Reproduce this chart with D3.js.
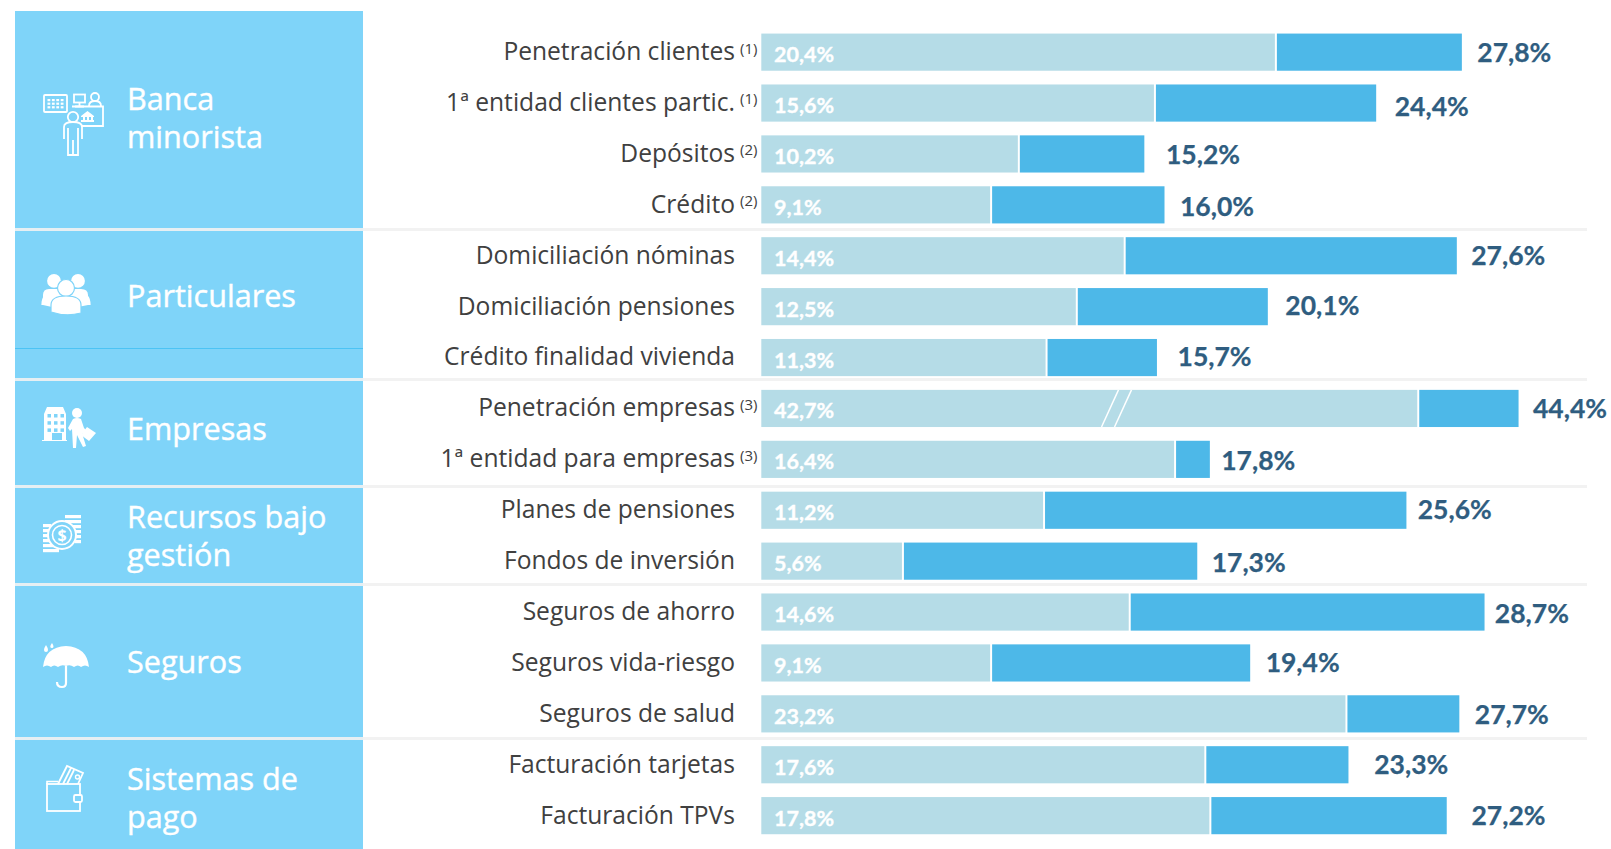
<!DOCTYPE html>
<html>
<head>
<meta charset="utf-8">
<script src="https://cdn.jsdelivr.net/npm/d3@7/dist/d3.min.js"></script>
<style>
html, body { margin: 0; padding: 0; background: #fff; }
svg { display: block; }
.row-label text { font-family: "Open Sans", sans-serif; font-size: 24.6px; fill: #404040; }
.note { font-family: "Open Sans", sans-serif; font-size: 15px; fill: #404040; }
.inner { font-family: Lato, sans-serif; font-weight: 700; font-size: 21.5px; fill: #fff; stroke: #fff; stroke-width: 0.35px; }
.outer { font-family: Lato, sans-serif; font-weight: 700; font-size: 26.5px; fill: #2f5d80; stroke: #2f5d80; stroke-width: 0.25px; }
.group { font-family: "Open Sans", sans-serif; font-weight: 500; font-size: 30.6px; fill: #fff; stroke: #fff; stroke-width: 0.4px; }
</style>
</head>
<body>
<script>
var categories = ['Penetración clientes', '1ª entidad clientes partic.', 'Depósitos', 'Crédito',
    'Domiciliación nóminas', 'Domiciliación pensiones', 'Crédito finalidad vivienda',
    'Penetración empresas', '1ª entidad para empresas',
    'Planes de pensiones', 'Fondos de inversión',
    'Seguros de ahorro', 'Seguros vida-riesgo', 'Seguros de salud',
    'Facturación tarjetas', 'Facturación TPVs'];
var notes = ['(1)', '(1)', '(2)', '(2)', '', '', '', '(3)', '(3)', '', '', '', '', '', '', ''];
var before = [20.4, 15.6, 10.2, 9.1, 14.4, 12.5, 11.3, 42.7, 16.4, 11.2, 5.6, 14.6, 9.1, 23.2, 17.6, 17.8];
var after = [27.8, 24.4, 15.2, 16.0, 27.6, 20.1, 15.7, 44.4, 17.8, 25.6, 17.3, 28.7, 19.4, 27.7, 23.3, 27.2];
// the empresas bar is cut in the original, so it is drawn at these lengths
var brokenRow = 'Penetración empresas';
var brokenBefore = 26.05;
var brokenAfter = 30.05;
var groupNames = [['Banca', 'minorista'], ['Particulares'], ['Empresas'], ['Recursos bajo', 'gestión'], ['Seguros'], ['Sistemas de', 'pago']];

// layout, not data
var panelEdges = [11, 228, 378, 485, 583, 737, 849];
var valueGaps = [15, 18, 21, 15, 14, 17, 20, 14, 11, 11, 14, 10, 15, 15, 25, 24];
var valueDrops = [1, 4, 2, 3, 1, 0, 0, 1, 2, 0, 2, 2, 1, 2, 1, 1];

var width = 1611, height = 849;
var fmt = function (v) { return v.toFixed(1).replace('.', ',') + '%'; };

var svg = d3.select('body').append('svg').attr('width', width).attr('height', height);

var x = d3.scaleLinear().domain([0, 10]).range([761.3, 1013.3]);
var y = d3.scaleBand().domain(categories).range([26.7, 841.1]).paddingInner(0.27).paddingOuter(0.135);

// left panels
var panels = svg.append('g');
panelEdges.slice(0, -1).forEach(function (top, i) {
    var bottom = panelEdges[i + 1];
    panels.append('rect').attr('x', 15).attr('y', top + (i ? 3 : 0))
        .attr('width', 348).attr('height', bottom - top - (i ? 3 : 0)).attr('fill', '#7fd4f9');
    if (i) {
        panels.append('rect').attr('x', 15).attr('y', top).attr('width', 348).attr('height', 3).attr('fill', '#e6eff3');
        panels.append('rect').attr('x', 363).attr('y', top).attr('width', 1224).attr('height', 3).attr('fill', '#f2f2f2');
    }
});
panels.append('rect').attr('x', 15).attr('y', 348).attr('width', 348).attr('height', 1).attr('fill', '#4cc3f5');

var groupCenters = [118, 296, 429, 536, 662, 798];
groupNames.forEach(function (lines, i) {
    lines.forEach(function (line, j) {
        svg.append('text').attr('class', 'group')
            .attr('x', 127)
            .attr('y', groupCenters[i] + 11 + (j - (lines.length - 1) / 2) * 38)
            .text(line);
    });
});

// row labels
var axis = svg.append('g').attr('class', 'row-label')
    .attr('transform', 'translate(735,0)')
    .call(d3.axisLeft(y).tickSize(0).tickPadding(0));
axis.select('.domain').remove();

svg.selectAll('text.note').data(categories.filter(function (c, i) { return notes[i]; }))
    .enter().append('text').attr('class', 'note')
    .attr('x', 740)
    .attr('y', function (c) { return y(c) + 20; })
    .text(function (c) { return notes[categories.indexOf(c)]; });

// bars
function lenBefore(c, i) { return c === brokenRow ? brokenBefore : before[i]; }
function lenAfter(c, i) { return c === brokenRow ? brokenAfter : after[i]; }

svg.selectAll('rect.total').data(categories).enter().append('rect')
    .attr('class', 'total')
    .attr('x', function (c, i) { return x(lenBefore(c, i)) + 1.5; })
    .attr('y', function (c) { return y(c); })
    .attr('width', function (c, i) { return x(lenAfter(c, i)) - x(lenBefore(c, i)) - 1.5; })
    .attr('height', y.bandwidth())
    .attr('fill', '#4db8e8');

svg.selectAll('rect.prior').data(categories).enter().append('rect')
    .attr('class', 'prior')
    .attr('x', x(0))
    .attr('y', function (c) { return y(c); })
    .attr('width', function (c, i) { return x(lenBefore(c, i)) - x(0) - 0.5; })
    .attr('height', y.bandwidth())
    .attr('fill', '#b5dce7');

// cut marks
[0, 13].forEach(function (d) {
    svg.append('line')
        .attr('x1', 1101.5 + d).attr('y1', y(brokenRow) + y.bandwidth())
        .attr('x2', 1118.5 + d).attr('y2', y(brokenRow))
        .attr('stroke', '#fff').attr('stroke-width', 1.5);
});

// value labels
svg.selectAll('text.inner').data(categories).enter().append('text')
    .attr('class', 'inner')
    .attr('x', 774)
    .attr('y', function (c) { return y(c) + y.bandwidth() / 2 + 10; })
    .text(function (c, i) { return fmt(before[i]); });

svg.selectAll('text.outer').data(categories).enter().append('text')
    .attr('class', 'outer')
    .attr('x', function (c, i) { return x(lenAfter(c, i)) + valueGaps[i] * 1.03; })
    .attr('y', function (c, i) { return y(c) + y.bandwidth() / 2 + 8.5 + valueDrops[i]; })
    .text(function (c, i) { return fmt(after[i]); });

// ── Icons ──────────────────────────────────────────────────────────────────────
var icons = svg.append('g').attr('class', 'icons');
function stroke(sel, w) { return sel.attr('fill', 'none').attr('stroke', '#fff').attr('stroke-width', w || 1.8); }
function fill(sel) { return sel.attr('fill', '#fff'); }
function person(g, cx, top, s) {
    fill(g.append('circle').attr('cx', cx).attr('cy', top + 6 * s).attr('r', 6 * s));
    fill(g.append('path').attr('d', 'M' + (cx - 11 * s) + ',' + (top + 27 * s) + 'q0,-13 ' + (11 * s) + ',-13 q' + (11 * s) + ',0 ' + (11 * s) + ',13 z'));
}

// banca minorista
stroke(icons.append('rect').attr('x', 44).attr('y', 95).attr('width', 23).attr('height', 17).attr('rx', 1));
d3.range(4).forEach(function (c) {
    d3.range(3).forEach(function (r) {
        fill(icons.append('rect').attr('x', 47.5 + c * 4.4).attr('y', 99 + r * 3.6).attr('width', 2.8).attr('height', 2.2));
    });
});
stroke(icons.append('rect').attr('x', 74).attr('y', 94.5).attr('width', 11).attr('height', 8));
stroke(icons.append('path').attr('d', 'M79.5,102.5v4M75,106.5h9'));
stroke(icons.append('circle').attr('cx', 95).attr('cy', 97).attr('r', 4));
stroke(icons.append('path').attr('d', 'M89,106q0,-5 6,-5q6,0 6,5'));
stroke(icons.append('path').attr('d', 'M72,106.5h31v19.5h-22'));
fill(icons.append('path').attr('d', 'M81,116l6.5,-5l6.5,5v1h-13zM81,122h13v-2h-1v-3h-2v3h-2v-3h-2v3h-2v-3h-2v3h-2z'));
stroke(icons.append('circle').attr('cx', 73).attr('cy', 117).attr('r', 5.2));
stroke(icons.append('path').attr('d', 'M64,139v-12q0,-5 9,-5q9,0 9,5v12M68,128v27h10v-27M73,140v15'));

// particulares
person(icons, 54, 274, 1.15);
person(icons, 78, 274, 1.15);
fill(icons.append('path').attr('d', 'M43,305v-10q0,-6 6,-6h32q7,0 7,6v10l-10,2h-26z'));
icons.append('circle').attr('cx', 66).attr('cy', 288).attr('r', 8.5).attr('fill', '#fff').attr('stroke', '#7fd4f9').attr('stroke-width', 1.2);
icons.append('path').attr('d', 'M51,310v-5q0,-9 15,-9q15,0 15,9v8q-15,4 -30,-1z').attr('fill', '#fff').attr('stroke', '#7fd4f9').attr('stroke-width', 1.2);

// empresas
fill(icons.append('path').attr('d', 'M45,440v-26l3,-7h16l3,7v26h1v1h-25v-1z').attr('transform', 'translate(-1,0)'));
d3.range(3).forEach(function (c) {
    d3.range(3).forEach(function (r) {
        icons.append('rect').attr('x', 47.5 + c * 6.5).attr('y', 414 + r * 7.2).attr('width', 3.5).attr('height', 3.5).attr('fill', '#7fd4f9');
    });
});
icons.append('rect').attr('x', 52).attr('y', 433).attr('width', 10).attr('height', 7).attr('fill', '#7fd4f9');
fill(icons.append('circle').attr('cx', 77).attr('cy', 413).attr('r', 5));
fill(icons.append('path').attr('d', 'M68,428l5,-9q4,-2 8,0l3,9l3,3l-3,4l-2,-2l4,13l-3,1l-6,-12l-1,13h-3l-1,-19l-2,2z'));
fill(icons.append('path').attr('d', 'M87,427l9,6l-7,8l-8,-6z'));

// recursos bajo gestion
[[65, 515, 16], [65, 520, 16], [65, 525, 16], [75, 530, 6], [75, 535, 6], [75, 540, 6], [43, 524, 8], [43, 529, 6], [43, 534, 6], [43, 539, 6], [43, 544, 14], [43, 549, 16]].forEach(function (b) {
    fill(icons.append('rect').attr('x', b[0]).attr('y', b[1]).attr('width', b[2]).attr('height', 3.2));
});
icons.append('circle').attr('cx', 62).attr('cy', 535).attr('r', 14).attr('fill', '#7fd4f9').attr('stroke', '#fff').attr('stroke-width', 2);
stroke(icons.append('circle').attr('cx', 62).attr('cy', 535).attr('r', 9.5), 1.6);
icons.append('text').attr('x', 62).attr('y', 541).attr('text-anchor', 'middle')
    .attr('font-family', 'Open Sans, sans-serif').attr('font-weight', 700).attr('font-size', 16).attr('fill', '#fff').text('$');

// seguros
fill(icons.append('path').attr('d', 'M43,667q2,-20 23,-21q21,1 23,21q-4,-3 -8,0q-3,-3 -7,0q-4,-3 -8,-1q-4,-2 -8,1q-4,-3 -7,0q-4,-3 -8,0z'));
stroke(icons.append('path').attr('d', 'M66,666v17q0,4 -4,4q-5,0 -5,-5'), 2.2);
fill(icons.append('path').attr('d', 'M46,645q2,3 2,5a2,2 0 0 1 -4,0q0,-2 2,-5zM52,643q1.5,2 1.5,3.5a1.6,1.6 0 0 1 -3.2,0q0,-1.5 1.7,-3.5z'));

// sistemas de pago
stroke(icons.append('rect').attr('x', 47).attr('y', 784).attr('width', 33).attr('height', 27));
stroke(icons.append('path').attr('d', 'M47,784v-2.5h11'), 1.6);
stroke(icons.append('path').attr('d', 'M58,784l9,-18l16,7l-5,11M63,784l8,-16M67,784l7,-14'), 1.8);
stroke(icons.append('circle').attr('cx', 77.5).attr('cy', 777).attr('r', 2), 1.4);
icons.append('rect').attr('x', 74).attr('y', 795).attr('width', 8).attr('height', 7).attr('rx', 1.5).attr('fill', '#7fd4f9').attr('stroke', '#fff').attr('stroke-width', 1.8);
</script>
</body>
</html>
